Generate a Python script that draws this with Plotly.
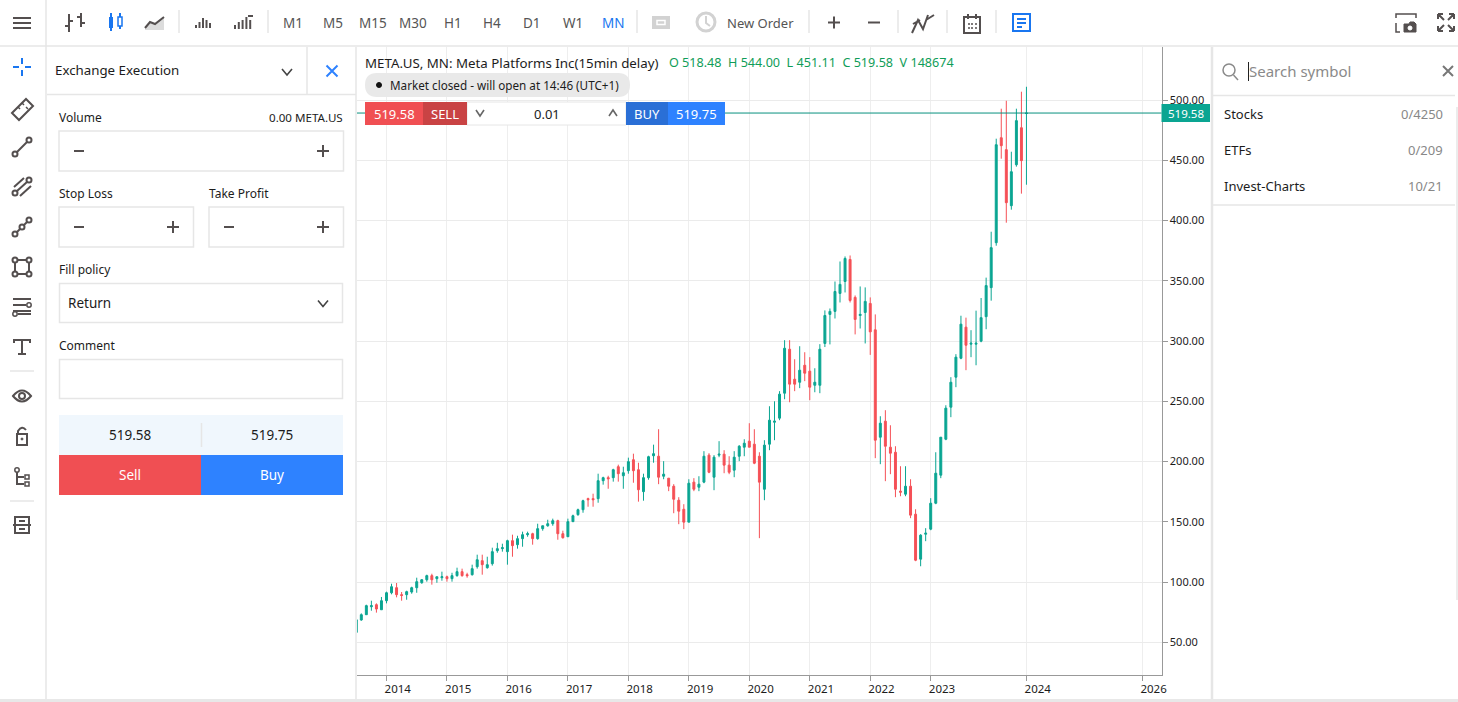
import plotly.graph_objects as go

# monthly META.US candles
opens = [58.2, 68.5, 72.9, 79.5, 81.2, 77.0, 84.5, 91.1, 95.3, 89.5, 89.5, 91.7, 95.3, 99.4, 101.9, 105.3, 102.8, 103.6, 104.4, 102.8,
         105.3, 108.6, 106.1, 106.1, 112.7, 117.7, 111.9, 115.2, 126.0, 127.7, 125.2, 134.3, 131.0, 136.0, 139.3, 140.1, 136.0, 144.3, 146.7, 148.4,
         150.9, 140.1, 137.6, 150.1, 155.9, 160.0, 169.2, 169.2, 169.2, 184.1, 186.6, 186.6, 195.7, 188.2, 192.4, 201.5, 193.2, 175.0, 186.6, 204.8,
         204.4, 187.8, 186.2, 179.5, 167.9, 160.4, 149.7, 182.9, 178.7, 182.9, 205.3, 187.0, 205.3, 206.1, 197.0, 192.8, 204.4, 211.9, 216.9, 214.4,
         204.4, 177.0, 214.4, 232.6, 236.0, 256.7, 293.2, 268.3, 265.8, 279.9, 275.0, 263.3, 263.3, 298.0, 322.1, 324.6, 339.5, 349.4, 367.7, 336.2,
         321.2, 323.7, 331.2, 309.3, 220.2, 233.5, 211.9, 207.7, 175.4, 172.9, 179.5, 156.3, 119.0, 139.7, 143.9, 165.4, 188.7, 218.5, 245.1, 270.0,
         285.7, 311.5, 297.4, 297.4, 299.9, 320.2, 344.3, 381.6, 468.7, 458.8, 412.3, 446.3, 477.0, 488.8]
highs = [68.7, 74.0, 81.2, 84.5, 82.3, 87.6, 92.0, 98.6, 99.2, 91.7, 92.8, 96.1, 103.6, 102.5, 106.1, 106.9, 104.4, 108.6, 105.3, 107.7,
         111.9, 111.1, 107.7, 114.4, 122.7, 122.7, 121.0, 128.5, 132.6, 131.8, 135.1, 139.3, 138.4, 141.8, 141.8, 140.9, 148.4, 146.7, 151.7, 152.6,
         151.7, 142.6, 152.6, 155.9, 160.9, 168.3, 170.0, 173.3, 189.9, 187.4, 188.2, 194.0, 197.4, 195.7, 203.2, 206.5, 199.0, 189.9, 204.8, 214.0,
         226.8, 200.3, 186.2, 181.2, 170.4, 164.6, 185.3, 186.2, 187.8, 208.6, 206.9, 205.3, 216.9, 209.4, 204.4, 208.6, 213.6, 218.5, 231.8, 226.8,
         207.7, 217.7, 245.9, 250.0, 258.4, 300.7, 300.7, 284.9, 295.7, 290.7, 286.6, 277.4, 297.4, 325.4, 327.0, 349.4, 366.0, 370.2, 371.0, 337.8,
         345.3, 344.5, 336.2, 322.1, 237.6, 242.6, 230.1, 212.7, 196.1, 196.1, 185.3, 160.4, 139.7, 144.7, 169.6, 207.7, 220.2, 246.7, 270.0, 289.1,
         321.0, 319.4, 309.0, 325.2, 335.7, 352.6, 390.7, 467.9, 492.8, 499.4, 457.1, 492.8, 506.9, 511.0]
lows = [58.2, 67.9, 72.9, 76.2, 74.6, 77.0, 82.3, 89.8, 87.3, 84.5, 85.3, 90.3, 91.1, 98.6, 100.3, 97.8, 99.4, 101.1, 100.3, 100.3,
        104.4, 104.4, 103.6, 105.3, 111.1, 106.1, 111.1, 113.6, 124.3, 125.2, 114.4, 121.0, 127.7, 129.3, 137.6, 131.0, 135.1, 142.6, 145.9, 146.7,
        135.1, 136.0, 137.6, 150.1, 155.0, 157.5, 162.5, 162.5, 165.8, 180.8, 177.4, 183.3, 183.3, 177.4, 189.9, 182.4, 166.7, 167.5, 184.9, 199.0,
        181.2, 185.3, 175.4, 157.1, 148.0, 143.9, 149.7, 175.4, 175.4, 182.0, 190.3, 176.2, 203.6, 190.3, 189.5, 187.0, 200.3, 204.4, 211.9, 197.8,
        136.4, 167.9, 209.4, 217.7, 234.3, 251.7, 249.2, 258.4, 260.9, 266.7, 250.9, 257.5, 256.7, 295.0, 297.2, 318.7, 332.0, 340.3, 332.0, 305.5,
        310.4, 298.0, 288.5, 202.8, 197.8, 183.7, 189.5, 170.4, 171.2, 171.2, 153.0, 117.3, 113.1, 133.9, 143.0, 164.6, 186.2, 217.7, 236.8, 261.7,
        284.9, 275.8, 286.6, 279.9, 299.0, 309.8, 333.5, 379.1, 451.3, 398.2, 409.0, 444.7, 422.3, 429.7]
closes = [68.7, 72.9, 80.4, 80.4, 77.6, 84.5, 91.1, 96.1, 89.5, 88.9, 92.0, 95.3, 100.3, 101.9, 105.3, 101.9, 104.4, 104.4, 102.8, 105.3,
          108.6, 105.3, 105.3, 111.1, 118.5, 114.4, 114.4, 125.2, 127.7, 128.5, 134.3, 130.2, 136.0, 139.3, 140.1, 136.0, 144.3, 146.7, 148.4, 150.9,
          140.1, 136.8, 150.1, 155.0, 160.0, 167.5, 168.3, 168.3, 184.1, 186.6, 185.7, 193.2, 189.9, 190.7, 199.9, 192.4, 176.6, 186.6, 204.0, 206.5,
          187.0, 189.5, 179.5, 168.7, 158.8, 149.7, 182.0, 177.0, 181.2, 204.4, 191.1, 203.6, 206.1, 197.0, 191.1, 203.6, 212.7, 215.2, 211.9, 198.6,
          182.9, 213.6, 234.3, 233.5, 255.9, 294.0, 264.2, 264.2, 275.8, 273.3, 261.7, 265.8, 293.2, 321.2, 324.6, 341.1, 347.0, 368.5, 333.7, 317.9,
          322.1, 332.9, 307.6, 217.7, 231.8, 212.7, 206.9, 177.0, 174.6, 179.5, 155.5, 118.1, 138.9, 140.5, 165.4, 190.3, 220.2, 244.3, 265.8, 286.6,
          314.0, 296.5, 298.2, 298.2, 319.4, 346.0, 377.5, 462.9, 462.1, 414.8, 440.5, 482.9, 449.7, 489.2]

year_pos = [6, 18, 30, 42, 54, 66, 78, 90, 102, 114, 133, 156]
year_labels = ["2014", "2015", "2016", "2017", "2018", "2019", "2020", "2021", "2022", "2023", "2024", "2026"]
price_ticks = [50, 100, 150, 200, 250, 300, 350, 400, 450, 500]
last_line = 489.2
bid = "519.58"
ask = "519.75"

W, H = 1458, 702
FONT = "Noto Sans"
DARK = "#1c1c1c"
ICON = "#544f4f"
BORDER = "#e6e6e6"
BLUE = "#1976f0"
TEAL = "#0aa592"
RED = "#f55056"

shapes = []
notes = []


def line(x0, y0, x1, y1, color=ICON, w=2):
    shapes.append(dict(type="line", xref="x2", yref="y2", x0=x0, y0=y0, x1=x1, y1=y1,
                       line=dict(color=color, width=w), layer="above"))


def box(x0, y0, x1, y1, fill="rgba(0,0,0,0)", color=None, w=1):
    shapes.append(dict(type="rect", xref="x2", yref="y2", x0=x0, y0=y0, x1=x1, y1=y1, fillcolor=fill,
                       line=dict(color=color or fill, width=w if color else 0), layer="above"))


def path(d, color=ICON, w=2, fill="rgba(0,0,0,0)"):
    shapes.append(dict(type="path", xref="x2", yref="y2", path=d, fillcolor=fill,
                       line=dict(color=color, width=w), layer="above"))


def circle(cx, cy, r, color=ICON, w=2, fill="rgba(0,0,0,0)"):
    shapes.append(dict(type="circle", xref="x2", yref="y2", x0=cx - r, y0=cy - r, x1=cx + r, y1=cy + r, fillcolor=fill,
                       line=dict(color=color, width=w), layer="above"))


def text(x, y, s, size=12, color=DARK, anchor="left"):
    notes.append(dict(xref="x2", yref="y2", x=x, y=y, text=s, showarrow=False, xanchor=anchor, yanchor="middle",
                      borderpad=0, font=dict(family=FONT, size=size, color=color)))


def plus(cx, cy, r=6, color=ICON):
    line(cx - r, cy, cx + r, cy, color)
    line(cx, cy - r, cx, cy + r, color)


def chevron(cx, cy, up=False, color=ICON, r=5):
    d = -3 if up else 3
    path(f"M{cx - r},{cy - d} L{cx},{cy + d} L{cx + r},{cy - d}", color, 1.6)


# frame
line(0, 46, W, 46, BORDER, 1.5)
line(46, 0, 46, H, BORDER, 1.5)
line(356, 47, 356, H, BORDER, 1.5)
line(1212, 47, 1212, H, BORDER, 2.5)
box(0, 699, W, H, "#e8e8e8")
line(47, 94.5, 356, 94.5, BORDER, 1.5)
line(307, 47, 307, 94, BORDER, 1.5)
line(1213, 95.5, 1455, 95.5, BORDER, 1.5)
line(1213, 205, 1455, 205, BORDER, 1.5)
line(1457, 107, 1457, 600, BORDER, 1.5)

# top toolbar
for y in [18, 23, 28]:
    line(13, y, 31, y, ICON, 2)
path("M69,14 V32 M69,26 H65 M69,21 H73 M81,13 V27 M81,17 H77 M81,23 H85", ICON, 2)
path("M111,13 V31 M120,13 V29", BLUE, 2)
box(109, 17, 113, 28, BLUE)
box(118, 17, 122, 26, "#ffffff", BLUE, 1.5)
path("M145,29 L150,22 L155,24 L164,17 V30 H145 Z", "#dcdcdc", 0, "#dcdcdc")
path("M145,28 L150,22 L155,24 L164,17", ICON, 2)
for i, top in enumerate([25, 22, 18, 20, 23]):
    line(196 + i * 3.5, top, 196 + i * 3.5, 28, ICON, 2)
for i, top in enumerate([25, 22, 20, 17, 20]):
    line(235 + i * 3.8, top, 235 + i * 3.8, 29, ICON, 2)
path("M248,16 H253", ICON, 2)
for x in [179, 268, 637, 809, 898, 947, 996]:
    line(x, 10, x, 33, BORDER, 1.5)
frames = ["M1", "M5", "M15", "M30", "H1", "H4", "D1", "W1", "MN"]
frame_x = [293, 333, 373, 413, 453, 492, 532, 573, 613]
for s, x in zip(frames, frame_x):
    text(x, 22.5, s, 13.5, BLUE if s == "MN" else "#555555", "center")
box(652, 16, 670, 29, "#d2d2d2")
box(657, 20.5, 665, 24.5, "#d2d2d2", "#ffffff", 1.5)
circle(706, 22, 9, "#d2d2d2", 3)
path("M706,16 V23 L710,26", "#d2d2d2", 2)
text(725.5, 22.5, "New Order", 13, "#555555")
plus(834, 22.5)
line(868, 22.5, 880, 22.5)
path("M912,33 L918,20 L923,29 L928,15 M926,20 L934,15 M913,24 L920,20", ICON, 2)
path("M964,17 H980 V33 H964 Z M968,14 V19 M976,14 V19", ICON, 2)
path("M968,24 H970 M971,24 H973 M975,24 H977 M968,28 H970 M971,28 H973 M975,28 H977", ICON, 1.5)
path("M1013,14 H1030 V31 H1013 Z", BLUE, 2)
path("M1017,19 H1026 M1017,23 H1026 M1017,27 H1022", BLUE, 2)
path("M1396,18 V14 H1416 V18 M1396,23 V32 H1400", ICON, 1.5)
path("M1404,32 V24 H1409 L1410,22 H1414 L1416,24 V32 Z", ICON, 1, ICON)
circle(1410, 28, 2, "#ffffff", 1, "#ffffff")
path("M1438,14 H1443 M1438,14 V19 M1438,14 L1444,20 M1454,14 H1449 M1454,14 V19 M1454,14 L1448,20", ICON, 2)
path("M1438,31 H1443 M1438,31 V26 M1438,31 L1444,25 M1454,31 H1449 M1454,31 V26 M1454,31 L1448,25", ICON, 2)

# left drawing tools
path("M22,58 V64 M22,70 V76 M13,67 H19 M25,67 H31", BLUE, 2)
path("M12,113 L26,99 L33,106 L19,120 Z", ICON, 2)
path("M18,107 L20,109 M22,103 L24,105 M26,107 L28,109", ICON, 1.5)
circle(15, 154, 2.5)
circle(29, 140, 2.5)
line(17, 152, 27, 142)
circle(15, 193, 2.5)
circle(29, 180, 2.5)
line(17, 191, 27, 182)
line(14, 187, 24, 178)
line(20, 196, 31, 186)
circle(15, 234, 2.5)
circle(22, 227, 2.5)
circle(29, 220, 2.5)
line(17, 232, 20, 229)
line(24, 225, 27, 222)
box(15, 260, 29, 274, "rgba(0,0,0,0)", ICON, 2)
for x, y in [(15, 260), (29, 260), (15, 274), (29, 274)]:
    circle(x, y, 2.5, ICON, 2, "#ffffff")
line(13, 299, 31, 299)
line(13, 305, 26, 305)
line(13, 311, 31, 311)
line(18, 314, 31, 314)
circle(29, 305, 2.2, ICON, 1.5)
circle(15, 314, 2.2, ICON, 1.5)
path("M14,343 V340 H30 V343 M22,340 V354 M18,354 H26", ICON, 2)
line(10, 371, 34, 371, BORDER, 1.5)
path("M13,396 Q22,385 31,396 Q22,407 13,396 Z", ICON, 2)
circle(22, 396, 3, ICON, 2)
box(17, 434, 27, 445, "rgba(0,0,0,0)", ICON, 2)
path("M18,433 V431 Q22,425 26,430", ICON, 2)
circle(22, 439, 1, ICON, 1, ICON)
path("M17,472 V484 H24 M17,477 H24", ICON, 2)
circle(17, 470, 2.2, ICON, 1.5)
box(25, 475, 29, 479, "rgba(0,0,0,0)", ICON, 1.5)
box(25, 482, 29, 486, "rgba(0,0,0,0)", ICON, 1.5)
line(10, 501, 34, 501, BORDER, 1.5)
box(15, 517, 29, 533, "rgba(0,0,0,0)", ICON, 2)
path("M13,525 H31 M19,521 H25 M19,529 H25", ICON, 2)

# order panel
text(54, 70, "Exchange Execution", 13.3)
chevron(287, 72, color="#444444")
path("M326.5,65.5 L337.5,76.5 M337.5,65.5 L326.5,76.5", "#2e82ff", 2)
text(58, 117.5, "Volume", 12)
text(344, 117.5, "0.00 META.US", 11.6, DARK, "right")
box(59, 131, 343.5, 171, "#ffffff", BORDER, 1.5)
line(74, 151, 84, 151)
plus(323, 151)
text(58, 193.5, "Stop Loss", 12)
text(208, 193.5, "Take Profit", 12)
box(59, 207, 193.5, 247, "#ffffff", BORDER, 1.5)
box(209, 207, 343.5, 247, "#ffffff", BORDER, 1.5)
line(74, 227, 84, 227)
plus(173, 227)
line(224, 227, 234, 227)
plus(323, 227)
text(58, 269.5, "Fill policy", 12)
box(59.5, 283.5, 342.5, 322.5, "#ffffff", BORDER, 1.5)
text(67, 303, "Return", 13.5)
chevron(323, 303.5, color="#444444")
text(58, 345.5, "Comment", 12)
box(59.5, 359.5, 342.5, 398.5, "#ffffff", BORDER, 1.5)
box(59, 415, 343, 455, "#f0f7fd")
line(201.5, 423, 201.5, 447, BORDER, 1.5)
text(130, 435, bid, 13.5, DARK, "center")
text(272, 435, ask, 13.5, DARK, "center")
box(59, 455, 201, 495, "#f04f53")
box(201, 455, 343, 495, "#2e82ff")
text(130, 475, "Sell", 13.5, "#ffffff", "center")
text(272, 475, "Buy", 13.5, "#ffffff", "center")

# chart overlay, price line goes through the data axes
shapes.append(dict(type="line", xref="x domain", yref="y", x0=0, x1=1, y0=last_line, y1=last_line,
                   line=dict(color="#08907f", width=1), layer="above"))
text(364, 63, "META.US, MN: Meta Platforms Inc(15min delay)", 13.3)
text(667.5, 62.5, "O 518.48  H 544.00  L 451.11  C 519.58  V 148674", 12.6, "#0f9d58")
path("M377,73 H618 Q630,73 630,85 Q630,97 618,97 H377 Q365,97 365,85 Q365,73 377,73 Z", "#e9e9e9", 0, "#e9e9e9")
circle(379, 85, 2.5, "#111111", 1, "#111111")
text(388.5, 85, "Market closed - will open at 14:46 (UTC+1)", 11.7)
box(467, 102, 626, 125, "#ffffff", BORDER, 1)
box(365, 102, 423, 125, "#f04f53")
box(423, 102, 467, 125, "#c94344")
box(626, 102, 668, 125, "#2a6fd6")
box(668, 102, 725, 125, "#2e82ff")
text(394, 113.5, bid, 13, "#ffffff", "center")
text(445, 113.5, "SELL", 13, "#ffffff", "center")
chevron(480, 113, color="#666666", r=4)
text(547, 113.5, "0.01", 13, DARK, "center")
chevron(613, 113, up=True, color="#666666", r=4)
text(647, 113.5, "BUY", 13, "#ffffff", "center")
text(696, 113.5, ask, 13, "#ffffff", "center")
box(1161.5, 104, 1210, 122, TEAL)
text(1186, 113, bid, 11.5, "#ffffff", "center")

# search panel
circle(1229, 70, 6, "#8a8a8a", 1.5)
line(1233.5, 75, 1238, 80, "#8a8a8a", 1.5)
line(1248.5, 62, 1248.5, 81, "#222222", 1)
text(1247.5, 71, "Search symbol", 15, "#8a8a8a")
path("M1443,66 L1453,76 M1453,66 L1443,76", "#777777", 2)
rows = ["Stocks", "ETFs", "Invest-Charts"]
counts = ["0/4250", "0/209", "10/21"]
row_y = [114, 150, 186]
for s, c, y in zip(rows, counts, row_y):
    text(1223, y, s, 13)
    text(1444, y, c, 13, "#888888", "right")

fig = go.Figure()
fig.add_trace(go.Candlestick(x=list(range(len(opens))), open=opens, high=highs, low=lows, close=closes,
                             increasing=dict(line=dict(color=TEAL, width=1), fillcolor=TEAL),
                             decreasing=dict(line=dict(color=RED, width=1), fillcolor=RED),
                             whiskerwidth=0, hoverinfo="skip", showlegend=False))
fig.add_trace(go.Scatter(x=[0], y=[0], xaxis="x2", yaxis="y2", mode="markers", opacity=0,
                         hoverinfo="skip", showlegend=False))

fig.update_layout(
    width=W, height=H, margin=dict(l=0, r=0, t=0, b=0), paper_bgcolor="#ffffff", plot_bgcolor="rgba(0,0,0,0)",
    font=dict(family=FONT, size=12, color=DARK), boxgap=0.45, showlegend=False,
    shapes=shapes, annotations=notes,
    xaxis=dict(domain=[357 / W, 1161.5 / W], range=[0.147, 159.8], rangeslider=dict(visible=False),
               tickmode="array", tickvals=year_pos, ticktext=year_labels, ticks="outside", ticklen=5,
               tickcolor="#999999", ticklabelposition="outside right", tickfont=dict(size=11.5),
               showgrid=True, gridcolor="#eeeeee", gridwidth=1.2, showline=True, linecolor="#999999",
               linewidth=1.2, zeroline=False, anchor="y", automargin=False,
               ticklabelstandoff=3, ticklabelshift=-3),
    yaxis=dict(domain=[1 - 675.3 / H, 1 - 47 / H], range=[22.6, 544], side="right",
               tickmode="array", tickvals=price_ticks, ticktext=[f"{p:.2f}" for p in price_ticks],
               ticks="outside", ticklen=5, tickcolor="#999999", tickfont=dict(size=11),
               showgrid=True, gridcolor="#ebebeb", gridwidth=1.2, showline=True, linecolor="#999999",
               linewidth=1.2, zeroline=False, anchor="x", automargin=False),
    xaxis2=dict(domain=[0, 1], range=[0, W], visible=False, anchor="y2", automargin=False),
    yaxis2=dict(domain=[0, 1], range=[H, 0], visible=False, anchor="x2", automargin=False),
)

# the page adds its own 8px margin, drop it
fig.write_html("out.html", config={"displayModeBar": False},
               post_script="document.body.style.margin='0';document.documentElement.style.overflow='hidden';")
